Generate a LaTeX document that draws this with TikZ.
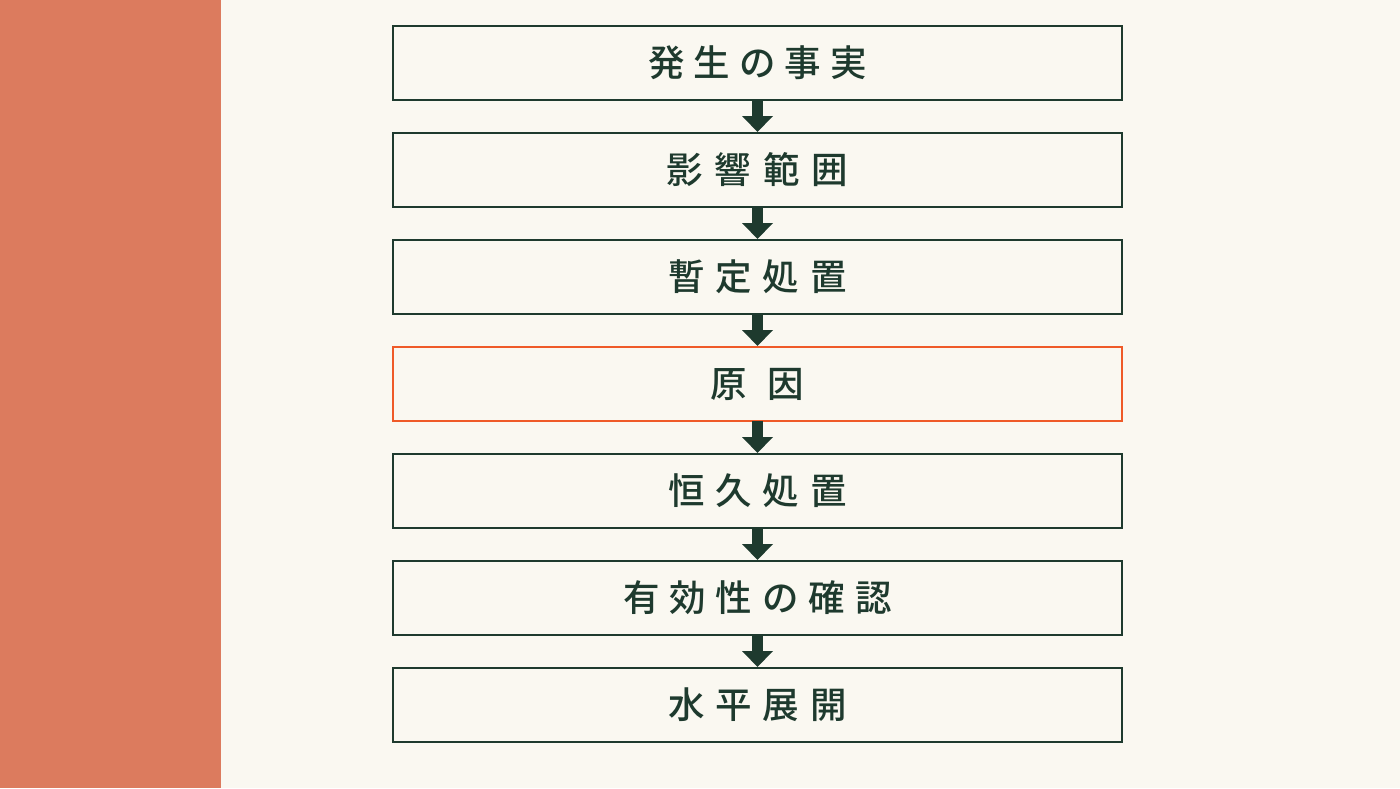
\documentclass[tikz,border=0pt]{standalone}
\usepackage{fontspec}
\newfontfamily\jp{Noto Sans CJK JP}[UprightFont={* Medium}]
\usetikzlibrary{arrows.meta}
\definecolor{bgcream}{HTML}{FAF8F1}
\definecolor{barorange}{HTML}{DC7B5E}
\definecolor{inkgreen}{HTML}{1E3A2E}
\definecolor{hlred}{HTML}{EF5A28}
\makeatletter
\def\spc#1#2{\def\spc@gap{#1}\spc@loop#2\relax\relax}
\def\spc@loop#1#2{#1\ifx\relax#2\else\kern\spc@gap\expandafter\spc@loop\expandafter#2\fi}
\makeatother
\tikzset{
  stepbox/.style={draw=inkgreen, line width=2pt, fill=bgcream, minimum width=729pt,
    minimum height=74pt, inner sep=0pt, text=inkgreen,
    font=\jp\fontsize{36.5pt}{40pt}\selectfont},
  keybox/.style={stepbox, draw=hlred},
  flowarrow/.style={draw=inkgreen, line width=11pt,
    -{Triangle[width=30pt,length=16pt]}, shorten <=-1pt},
}
\begin{document}
\begin{tikzpicture}[x=1pt,y=-1pt]
\useasboundingbox (0,0) rectangle (1400,788);
\fill[bgcream] (0,0) rectangle (1400,788);
\fill[barorange] (0,0) rectangle (221,788);
\node[stepbox] (s1) at (757.5,63) {\spc{9pt}{発生の事実}};
\node[stepbox] (s2) at (757.5,170) {\spc{12pt}{影響範囲}};
\node[stepbox] (s3) at (757.5,277) {\spc{11pt}{暫定処置}};
\node[keybox]  (s4) at (757.5,384) {\spc{21pt}{原因}};
\node[stepbox] (s5) at (757.5,491) {\spc{11pt}{恒久処置}};
\node[stepbox] (s6) at (757.5,598) {\spc{10pt}{有効性の確認}};
\node[stepbox] (s7) at (757.5,705) {\spc{11pt}{水平展開}};
\foreach \a/\b in {s1/s2,s2/s3,s3/s4,s4/s5,s5/s6,s6/s7}
  \draw[flowarrow] (\a.south) -- (\b.north);
\end{tikzpicture}
\end{document}
